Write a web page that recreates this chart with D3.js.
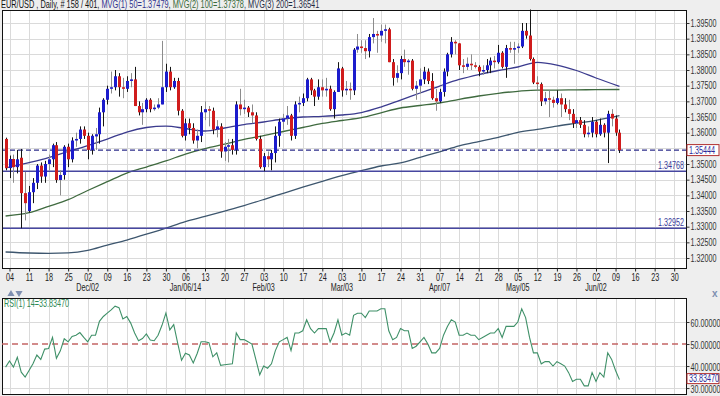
<!DOCTYPE html>
<html><head><meta charset="utf-8">
<script src="https://cdn.jsdelivr.net/npm/d3@7"></script>
<style>
html,body{margin:0;padding:0;background:#eeeeee;}
svg{display:block;font-family:"Liberation Sans",Arial,sans-serif;}
</style></head><body>
<svg id="chart" width="720" height="396"></svg>
<script>
// EUR/USD daily, 01 Nov 2013 .. 10 Jun 2014 (158 bars)
const openP = [
  1.3580,1.3487,1.3516,1.3490,1.3520,1.3407,1.3350,1.3410,1.3440,1.3495,1.3460,1.3500,1.3515,1.3560,1.3449,1.3465,1.3555,1.3515,1.3575,1.3580,1.3610,
  1.3590,1.3545,1.3588,1.3595,1.3665,1.3705,1.3740,1.3745,1.3780,1.3745,1.3740,1.3765,1.3770,1.3685,1.3665,1.3675,1.3705,1.3675,1.3680,1.3690,1.3745,1.3795,
  1.3745,1.3765,1.3670,1.3590,1.3630,1.3615,1.3575,1.3590,1.3665,1.3675,1.3670,1.3610,1.3620,1.3540,1.3555,1.3560,1.3545,1.3690,1.3675,1.3680,1.3665,1.3655,1.3580,
  1.3490,1.3525,1.3515,1.3535,1.3590,1.3635,1.3645,1.3655,1.3590,1.3690,1.3695,1.3710,1.3770,1.3735,1.3715,1.3745,1.3735,1.3740,1.3675,1.3730,
  1.3805,1.3735,1.3740,1.3735,1.3865,1.3875,1.3870,1.3860,1.3905,1.3915,1.3910,1.3925,1.3930,1.3825,1.3775,1.3790,1.3835,1.3825,1.3830,1.3740,1.3750,
  1.3770,1.3795,1.3765,1.3710,1.3700,1.3730,1.3795,1.3850,1.3890,1.3885,1.3815,1.3810,1.3820,1.3815,1.3810,1.3795,1.3800,1.3815,1.3830,1.3825,1.3855,1.3810,
  1.3870,1.3865,1.3870,1.3875,1.3925,1.3910,1.3835,1.3760,1.3755,1.3700,1.3710,1.3705,1.3695,1.3710,1.3690,1.3675,1.3660,1.3630,1.3640,1.3625,1.3595,1.3600,
  1.3635,1.3595,1.3625,1.3600,1.3660,1.3645,1.3600
];
const highP = [
  1.3584,1.3527,1.3530,1.3545,1.3548,1.3475,1.3430,1.3455,1.3500,1.3505,1.3510,1.3530,1.3565,1.3570,1.3480,1.3560,1.3565,1.3585,1.3600,1.3620,1.3620,
  1.3600,1.3595,1.3615,1.3680,1.3710,1.3750,1.3795,1.3800,1.3790,1.3775,1.3780,1.3790,1.3810,1.3700,1.3695,1.3710,1.3710,1.3690,1.3710,1.3893,1.3820,1.3810,
  1.3775,1.3775,1.3675,1.3645,1.3645,1.3630,1.3610,1.3685,1.3700,1.3685,1.3680,1.3640,1.3630,1.3570,1.3580,1.3580,1.3700,1.3740,1.3705,1.3685,1.3690,1.3665,1.3590,
  1.3535,1.3540,1.3545,1.3620,1.3645,1.3660,1.3685,1.3660,1.3700,1.3715,1.3725,1.3775,1.3775,1.3740,1.3770,1.3770,1.3775,1.3750,1.3735,1.3825,
  1.3810,1.3765,1.3760,1.3870,1.3915,1.3895,1.3895,1.3915,1.3966,1.3925,1.3945,1.3945,1.3935,1.3835,1.3815,1.3845,1.3865,1.3835,1.3835,1.3765,1.3805,
  1.3810,1.3805,1.3790,1.3740,1.3740,1.3805,1.3855,1.3905,1.3895,1.3885,1.3835,1.3840,1.3850,1.3825,1.3815,1.3815,1.3835,1.3840,1.3845,1.3880,1.3860,1.3880,
  1.3890,1.3890,1.3885,1.3950,1.3950,1.3993,1.3840,1.3780,1.3760,1.3730,1.3735,1.3715,1.3735,1.3725,1.3710,1.3705,1.3675,1.3650,1.3650,1.3640,1.3620,1.3650,
  1.3640,1.3645,1.3630,1.3670,1.3675,1.3655,1.3610
];
const lowP = [
  1.3480,1.3455,1.3440,1.3470,1.3295,1.3320,1.3345,1.3375,1.3420,1.3440,1.3440,1.3480,1.3490,1.3440,1.3400,1.3450,1.3490,1.3505,1.3555,1.3565,1.3580,
  1.3515,1.3530,1.3545,1.3565,1.3620,1.3690,1.3725,1.3735,1.3715,1.3710,1.3730,1.3745,1.3685,1.3655,1.3625,1.3665,1.3665,1.3670,1.3675,1.3690,1.3730,1.3735,
  1.3740,1.3655,1.3585,1.3575,1.3595,1.3565,1.3550,1.3570,1.3640,1.3620,1.3595,1.3585,1.3520,1.3510,1.3505,1.3530,1.3530,1.3655,1.3660,1.3650,1.3630,1.3575,1.3485,
  1.3477,1.3490,1.3480,1.3505,1.3555,1.3610,1.3625,1.3575,1.3580,1.3665,1.3685,1.3700,1.3720,1.3685,1.3705,1.3715,1.3715,1.3670,1.3645,1.3730,
  1.3715,1.3720,1.3705,1.3720,1.3855,1.3855,1.3835,1.3840,1.3885,1.3855,1.3890,1.3885,1.3825,1.3750,1.3760,1.3770,1.3810,1.3785,1.3735,1.3705,1.3725,
  1.3755,1.3755,1.3705,1.3670,1.3695,1.3715,1.3780,1.3840,1.3850,1.3800,1.3790,1.3800,1.3800,1.3805,1.3780,1.3785,1.3790,1.3790,1.3805,1.3820,1.3805,1.3775,
  1.3855,1.3820,1.3855,1.3870,1.3900,1.3830,1.3755,1.3735,1.3685,1.3690,1.3650,1.3680,1.3690,1.3650,1.3665,1.3640,1.3615,1.3615,1.3615,1.3585,1.3585,1.3585,
  1.3585,1.3590,1.3585,1.3503,1.3620,1.3590,1.3535
];
const closeP = [
  1.3487,1.3516,1.3490,1.3515,1.3407,1.3375,1.3410,1.3440,1.3495,1.3460,1.3500,1.3515,1.3560,1.3449,1.3465,1.3555,1.3515,1.3575,1.3580,1.3610,1.3590,
  1.3545,1.3590,1.3595,1.3665,1.3705,1.3740,1.3745,1.3780,1.3745,1.3740,1.3765,1.3770,1.3685,1.3665,1.3675,1.3705,1.3675,1.3680,1.3690,1.3745,1.3795,1.3745,
  1.3765,1.3670,1.3590,1.3630,1.3615,1.3575,1.3590,1.3665,1.3675,1.3670,1.3610,1.3620,1.3540,1.3555,1.3560,1.3545,1.3690,1.3675,1.3680,1.3665,1.3655,1.3580,1.3490,
  1.3525,1.3515,1.3535,1.3590,1.3635,1.3645,1.3655,1.3590,1.3690,1.3695,1.3710,1.3770,1.3735,1.3715,1.3745,1.3735,1.3740,1.3675,1.3730,1.3805,
  1.3735,1.3740,1.3735,1.3865,1.3875,1.3870,1.3860,1.3905,1.3915,1.3910,1.3925,1.3930,1.3825,1.3775,1.3790,1.3835,1.3825,1.3830,1.3740,1.3750,1.3770,
  1.3795,1.3765,1.3710,1.3700,1.3730,1.3795,1.3850,1.3890,1.3885,1.3815,1.3810,1.3820,1.3815,1.3810,1.3795,1.3800,1.3815,1.3830,1.3825,1.3855,1.3810,1.3870,
  1.3865,1.3870,1.3875,1.3925,1.3910,1.3835,1.3760,1.3755,1.3700,1.3710,1.3705,1.3695,1.3710,1.3690,1.3675,1.3660,1.3630,1.3640,1.3625,1.3595,1.3600,1.3635,
  1.3595,1.3625,1.3600,1.3660,1.3645,1.3600,1.35444
];
const rsiVals = [
  39.5,42.3,39.5,44,37.2,35,38,41,45,43,47.7,48,53,43.5,46.9,52.4,51,53.4,54,55.2,53,
  51,54,54,60.3,62.5,64,65.5,67.2,66.5,61.4,62.5,59.5,55,51.5,52.5,54.6,51.8,51.5,54,58.5,64.1,56.4,
  58.8,50.5,42.6,45.8,45,41.4,45.7,51,51,50.6,44.2,46,40.3,40.6,40.8,41,55,52,52,51,50,43,36,
  40,39,41,47,51,52,53,47,55,55,56,61,57,55,57,57,57,51,55,61,
  54,55,54,63,64,64,62,65,65,65,66,66,56,52,53,57,56,56,48,49,51,
  53,50,46,46,48,54,58,61,60,54,54,55,54,54,52,53,54,55,55,57,53,58,
  58,58,60,66,62,53,46,46,41,42,42,40,42,41,40,37,33,34,34,31,31,37,
  33,37,35,46,43,38,33.8347
];
// moving averages at weekly bars (bar index, 0 = 04 Nov)
const maDays = [-1,5,10,15,20,25,30,35,40,45,50,55,60,65,70,75,80,85,90,95,100,105,110,115,120,125,130,135,140,145,150,156];
const ma50 = [1.34872,1.35047,1.35207,1.35399,1.3559,1.35797,1.36021,1.36165,1.36212,1.36133,1.36053,1.36149,1.3626,1.3634,1.36436,1.365,
  1.36522,1.36564,1.36643,1.36819,1.37042,1.37266,1.37489,1.37697,1.37856,1.37984,1.38096,1.38246,1.38159,1.37984,1.37745,1.37479];
const ma100 = [1.3334,1.33445,1.33649,1.33863,1.34154,1.34435,1.34712,1.34904,1.35098,1.35319,1.35494,1.35632,1.35788,1.35906,1.36037,1.36165,
  1.36295,1.36388,1.36477,1.36634,1.36787,1.36867,1.36947,1.37065,1.3717,1.37256,1.3732,1.37361,1.37361,1.37368,1.37371,1.37378];
const ma200 = [1.32191,1.32159,1.32149,1.32162,1.32242,1.32414,1.32574,1.32759,1.32957,1.33161,1.33327,1.33499,1.33675,1.33866,1.34064,1.34259,
  1.34447,1.34629,1.34789,1.34936,1.35035,1.35213,1.35389,1.35577,1.35717,1.35849,1.36011,1.36107,1.36212,1.36302,1.36394,1.36541];
const levels = [1.34768, 1.32952];
const dayLabels = ["04","11","18","25","02","09","16","23","30","06","13","20","27","03","10","17","24","03","10","17","24","31","07","14","21","28","05","12","19","26","02","09","16","23","30"];
const monthLabels = ["Dec/02","Jan/06/14","Feb/03","Mar/03","Apr/07","May/05","Jun/02"];
const monthDays = [20,45,65,85,110,130,150];
const priceTicks = d3.range(0,16).map(i=>1.32+i*0.005);
const rsiTicks = [30,40,50,60];

const svg = d3.select("#chart");
const L = 2, R = 686, T = 10, B = 268, RT = 298, RB = 394;
const K = 0.72; // narrow text

const x = d3.scaleLinear().domain([0,170]).range([9.5,674.2]);
const y = d3.scaleLinear().domain([1.31681,1.39915]).range([B,T]);
const yr = d3.scaleLinear().domain([27.3,70.9]).range([RB,RT]);
const weekTicks = d3.range(0,171,5);
const fmt = d3.format(".5f");
const last = closeP[closeP.length-1];
const lastRsi = rsiVals[rsiVals.length-1];

// squeeze text horizontally around its anchor point
function squeeze(sel){
  sel.each(function(){
    const x0 = +(this.getAttribute("x") || 0);
    this.setAttribute("transform", `translate(${x0},0) scale(${K},1) translate(${-x0},0)`);
  });
}

svg.append("rect").attr("width",720).attr("height",396).attr("fill","#eeeeee");

// panels
svg.append("rect").attr("x",L).attr("y",T).attr("width",R-L).attr("height",B-T).attr("fill","#fff");
svg.append("rect").attr("x",L).attr("y",RT).attr("width",R-L).attr("height",RB-RT).attr("fill","#fff");

// grid
const grid = svg.append("g").attr("stroke","#dadada").attr("stroke-width",1).attr("shape-rendering","crispEdges");
grid.selectAll(".vm").data(weekTicks).join("line").attr("class","vm")
  .attr("x1",d=>Math.round(x(d))+0.5).attr("x2",d=>Math.round(x(d))+0.5).attr("y1",T).attr("y2",B);
grid.selectAll(".vr").data(weekTicks).join("line").attr("class","vr")
  .attr("x1",d=>Math.round(x(d))+0.5).attr("x2",d=>Math.round(x(d))+0.5).attr("y1",RT).attr("y2",RB);
grid.selectAll(".hm").data(priceTicks).join("line").attr("class","hm")
  .attr("x1",L).attr("x2",R).attr("y1",d=>Math.round(y(d))+0.5).attr("y2",d=>Math.round(y(d))+0.5);
grid.selectAll(".hr").data(rsiTicks.filter(d=>d!==50)).join("line").attr("class","hr")
  .attr("x1",L).attr("x2",R).attr("y1",d=>Math.round(yr(d))+0.5).attr("y2",d=>Math.round(yr(d))+0.5);

// moving averages
const maLine = d3.line().curve(d3.curveMonotoneX).x(d=>x(d[0])).y(d=>y(d[1]));
[[ma200,"#3d566e"],[ma100,"#3f6a3f"],[ma50,"#3b3b8e"]].forEach(([vals,col])=>{
  svg.append("path").datum(maDays.map((d,i)=>[d,vals[i]]))
    .attr("d",maLine).attr("fill","none").attr("stroke",col).attr("stroke-width",1.3);
});

// support levels
svg.selectAll(".lvl").data(levels).join("line").attr("class","lvl")
  .attr("x1",L).attr("x2",R).attr("y1",d=>y(d)).attr("y2",d=>y(d))
  .attr("stroke","#4747a0").attr("stroke-width",1.6);
svg.selectAll(".lvlt").data(levels).join("text").attr("class","lvlt")
  .attr("x",684).attr("y",d=>y(d)-2).attr("text-anchor","end")
  .attr("font-size",10).attr("fill","#3a3a9a").text(d=>fmt(d)).call(squeeze);

svg.append("line").attr("x1",L).attr("x2",R).attr("y1",y(last)).attr("y2",y(last))
  .attr("stroke","#2d2d8a").attr("stroke-width",1.2).attr("stroke-dasharray","5,3");

// candles
const bars = closeP.map((c,i)=>({i:i-1,o:openP[i],h:highP[i],l:lowP[i],c:c}));
const cg = svg.append("g").selectAll("g").data(bars).join("g");
cg.append("line")
  .attr("x1",d=>Math.round(x(d.i))+0.5).attr("x2",d=>Math.round(x(d.i))+0.5)
  .attr("y1",d=>y(d.h)).attr("y2",d=>y(d.l))
  .attr("stroke",d=>Math.abs(d.c-d.o) < 0.3*(d.h-d.l) ? "#8c8c8c" : "#151515").attr("stroke-width",1);
cg.append("rect")
  .attr("x",d=>Math.round(x(d.i))-1).attr("width",3)
  .attr("y",d=>y(Math.max(d.o,d.c)))
  .attr("height",d=>Math.max(1,Math.abs(y(d.o)-y(d.c))))
  .attr("fill",d=>d.c>=d.o ? "#1c1ccc" : "#d01c1c");

// frames
svg.append("rect").attr("x",L+0.5).attr("y",T+0.5).attr("width",R-L).attr("height",B-T)
  .attr("fill","none").attr("stroke","#111").attr("shape-rendering","crispEdges");
svg.append("rect").attr("x",L+0.5).attr("y",RT+0.5).attr("width",R-L).attr("height",RB-RT)
  .attr("fill","none").attr("stroke","#111").attr("stroke-width",1.2).attr("shape-rendering","crispEdges");

// price axis (label under the current-price box is hidden, as on the platform)
const ya = svg.append("g").attr("transform",`translate(${R+0.5},0)`)
  .call(d3.axisRight(y).tickValues(priceTicks).tickFormat(fmt).tickSize(3).tickPadding(1));
ya.select(".domain").remove();
ya.selectAll("line").attr("stroke","#333");
ya.selectAll("text").attr("font-size",10).attr("fill","#333").attr("font-family",null).call(squeeze);
ya.selectAll(".tick").filter(d=>Math.abs(y(d)-y(last))<8).select("text").remove();

// current price box
const pb = svg.append("g").attr("transform",`translate(687,${y(last)})`);
pb.append("rect").attr("x",0).attr("y",-5.5).attr("width",32).attr("height",11).attr("fill","#fff").attr("stroke","#b03030");
pb.append("text").attr("x",2).attr("y",3.5).attr("font-size",10).attr("fill","#2a2a9a").text(fmt(last)).call(squeeze);

// date axis
const xa = svg.append("g").attr("transform",`translate(0,${B+0.5})`)
  .call(d3.axisBottom(x).tickValues(weekTicks).tickFormat((d,i)=>dayLabels[i]).tickSize(3).tickPadding(2));
xa.select(".domain").remove();
xa.selectAll("line").attr("stroke","#222");
xa.selectAll("text").attr("font-size",10).attr("fill","#222").attr("font-family",null).call(squeeze);
svg.selectAll(".mon").data(monthLabels).join("text").attr("class","mon")
  .attr("x",(d,i)=>x(monthDays[i])).attr("y",291).attr("text-anchor","middle")
  .attr("font-size",10).attr("fill","#222").text(d=>d).call(squeeze);

// RSI panel
svg.append("line").attr("x1",L).attr("x2",R).attr("y1",yr(50)).attr("y2",yr(50))
  .attr("stroke","#c46666").attr("stroke-width",1.5).attr("stroke-dasharray","6,4");
svg.append("path").datum(rsiVals.map((v,i)=>[i-1,v]))
  .attr("d",d3.line().x(d=>x(d[0])).y(d=>yr(d[1])))
  .attr("fill","none").attr("stroke","#3f9068").attr("stroke-width",1.1);
const ra = svg.append("g").attr("transform",`translate(${R+0.5},0)`)
  .call(d3.axisRight(yr).tickValues(rsiTicks).tickFormat(fmt).tickSize(3).tickPadding(1));
ra.select(".domain").remove();
ra.selectAll("line").attr("stroke","#333");
ra.selectAll("text").attr("font-size",10).attr("fill","#333").attr("font-family",null).attr("dy","0.42em").call(squeeze);
const rb = svg.append("g").attr("transform",`translate(687,${yr(lastRsi)-1})`);
rb.append("rect").attr("x",0).attr("y",-5).attr("width",32).attr("height",10).attr("fill","#fff").attr("stroke","#b03030");
rb.append("text").attr("x",2).attr("y",3.5).attr("font-size",10).attr("fill","#2a2a9a").text(fmt(lastRsi)).call(squeeze);
svg.append("text").attr("x",4).attr("y",RT+9).attr("font-size",10).attr("fill","#2f8a55")
  .text("RSI(1) 14=" + fmt(lastRsi)).call(squeeze);

// panel controls
svg.append("path").attr("d",d3.symbol(d3.symbolTriangle,22)()).attr("transform","translate(11,294)").attr("fill","#7e8fb0");
svg.append("path").attr("d",d3.symbol(d3.symbolTriangle,22)()).attr("transform","translate(19,293) rotate(180)").attr("fill","#7e8fb0");
svg.append("text").attr("x",712).attr("y",297).attr("font-size",10).attr("font-weight","bold").attr("fill","#7e8fb0").text("x");

// title
const title = svg.append("text").attr("transform","translate(1,8) scale(0.74,1)").attr("font-size",10);
title.append("tspan").attr("fill","#111").text("EUR/USD , Daily, # " + closeP.length + " / 401, ");
title.append("tspan").attr("fill","#33338f").text("MVG(1) 50=" + fmt(ma50[ma50.length-1]));
title.append("tspan").attr("fill","#111").text(", ");
title.append("tspan").attr("fill","#3a6a3a").text("MVG(2) 100=" + fmt(ma100[ma100.length-1]));
title.append("tspan").attr("fill","#1e2a44").text(", MVG(3) 200=" + fmt(ma200[ma200.length-1]));
</script>
</body></html>
